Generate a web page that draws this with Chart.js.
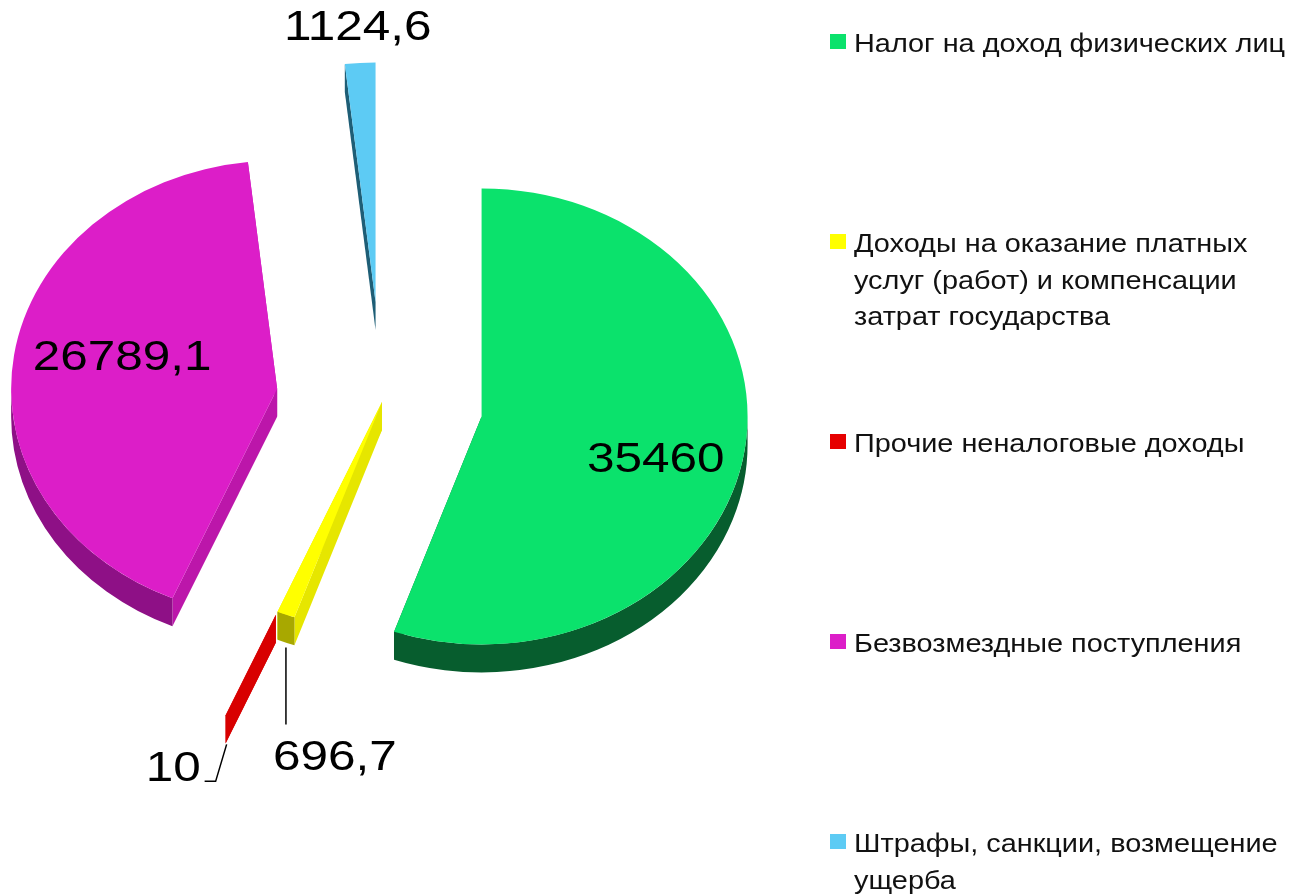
<!DOCTYPE html>
<html>
<head>
<meta charset="utf-8">
<script src="https://cdn.jsdelivr.net/npm/chart.js@4.4.1/dist/chart.umd.min.js"></script>
<style>
  html, body { margin: 0; padding: 0; background: #ffffff; overflow: hidden; }
  #wrap { position: relative; width: 1299px; height: 896px; }
  canvas { display: block; }
</style>
</head>
<body>
<div id="wrap"><canvas id="chart" width="1299" height="896"></canvas></div>
<script>
// ---------- data ----------
const legendLines = [
  ['Налог на доход физических лиц'],
  ['Доходы на оказание платных', 'услуг (работ) и компенсации', 'затрат государства'],
  ['Прочие неналоговые доходы'],
  ['Безвозмездные поступления'],
  ['Штрафы, санкции, возмещение', 'ущерба']
];
const categories = legendLines.map(l => l.join(' '));
const values = [35460, 696.7, 10, 26789.1, 1124.6];

// ---------- styles ----------
const faceColors = ['#0BE26C', '#FFFF00', '#E60000', '#DC1EC8', '#5DCBF4'];
const sideColors = ['#0A6E35', '#E6E600', '#D80000', '#BC16AA', '#1E5E76'];
const wallColors = ['#075D2E', '#A8A800', '#C00000', '#8E1086', '#1E5E76'];
const explode     = [101, 0, 270, 106, 117];   // explosion distance per slice (px, unsquashed)
const radiusScale = [1, 1, 0.48, 1, 1.05];
const labelMode   = ['in', 'down', 'left', 'in', 'out'];
const labelFactor = [0.68, 0, 0, 0.6, 1.21];
const labelShift  = [6, 0, 0, 5.2, 0];        // degrees

const CX = 382, CY = 402, R = 266, K = 0.857, DEPTH = 28;
const VALUE_SX = 1.15, LEGEND_SX = 1.11;
const VALUE_FONT = '43px "Liberation Sans", Arial, sans-serif';
const LEGEND_FONT = '26px "Liberation Sans", Arial, sans-serif';

const fmt = v => String(v).replace('.', ',');
const toScreen = (x, y) => [x, CY + (y - CY) * K];

function drawText(ctx, text, x, y, align, baseline, font, sx, color) {
  ctx.save();
  ctx.translate(x, y);
  ctx.scale(sx, 1);
  ctx.font = font;
  ctx.fillStyle = color || '#000';
  ctx.textAlign = align;
  ctx.textBaseline = baseline;
  ctx.fillText(text, 0, 0);
  ctx.restore();
}

const pie3d = {
  id: 'pie3d',
  afterDatasetsUpdate(chart) {
    const meta = chart.getDatasetMeta(0);
    meta.data.forEach((arc, i) => {
      const mid = (arc.startAngle + arc.endAngle) / 2;
      arc.x += Math.cos(mid) * explode[i];
      arc.y += Math.sin(mid) * explode[i];
      arc.outerRadius *= radiusScale[i];
    });
  },
  beforeDatasetsDraw(chart) {
    const ctx = chart.ctx;
    const meta = chart.getDatasetMeta(0);
    ctx.save();
    ctx.translate(0, CY);
    ctx.scale(1, K);
    ctx.translate(0, -CY);
    const D = DEPTH / K;
    // radial side walls
    meta.data.forEach((arc, i) => {
      const { x, y, startAngle, endAngle, outerRadius: r } = arc;
      [startAngle, endAngle].forEach(a => {
        const ex = x + r * Math.cos(a), ey = y + r * Math.sin(a);
        ctx.beginPath();
        ctx.moveTo(x, y);
        ctx.lineTo(ex, ey);
        ctx.lineTo(ex, ey + D);
        ctx.lineTo(x, y + D);
        ctx.closePath();
        ctx.fillStyle = sideColors[i];
        ctx.fill();
      });
    });
    // outer curved walls (front half only)
    meta.data.forEach((arc, i) => {
      const { x, y, startAngle, endAngle, outerRadius: r } = arc;
      const s = Math.max(startAngle, 0), e = Math.min(endAngle, Math.PI);
      if (e > s) {
        ctx.beginPath();
        ctx.arc(x, y, r, s, e);
        ctx.arc(x, y + D, r, e, s, true);
        ctx.closePath();
        ctx.fillStyle = wallColors[i];
        ctx.fill();
      }
    });
  },
  afterDatasetsDraw(chart) {
    const ctx = chart.ctx;
    ctx.restore();
    const meta = chart.getDatasetMeta(0);
    meta.data.forEach((arc, i) => {
      const { x, y, startAngle, endAngle, outerRadius: r } = arc;
      const mid = (startAngle + endAngle) / 2;
      const text = fmt(values[i]);
      ctx.strokeStyle = '#000';
      ctx.lineWidth = 1.5;
      if (labelMode[i] === 'in' || labelMode[i] === 'out') {
        const a = mid + labelShift[i] * Math.PI / 180;
        const [lx, ly] = toScreen(x + Math.cos(a) * R * labelFactor[i], y + Math.sin(a) * R * labelFactor[i]);
        drawText(ctx, text, lx, ly + 2, 'center', 'middle', VALUE_FONT, VALUE_SX);
      } else {
        const [tx, ty] = toScreen(x + Math.cos(mid) * r, y + Math.sin(mid) * r);
        const bottom = ty + DEPTH;
        if (labelMode[i] === 'down') {
          ctx.beginPath();
          ctx.moveTo(tx, bottom + 5);
          ctx.lineTo(tx, bottom + 82);
          ctx.stroke();
          drawText(ctx, text, tx - 13, bottom + 127, 'left', 'alphabetic', VALUE_FONT, VALUE_SX);
        } else {
          ctx.beginPath();
          ctx.moveTo(tx + 1, bottom + 1);
          ctx.lineTo(tx - 10, bottom + 38);
          ctx.lineTo(tx - 21, bottom + 38);
          ctx.stroke();
          drawText(ctx, text, tx - 25, bottom + 38, 'right', 'alphabetic', VALUE_FONT, VALUE_SX);
        }
      }
    });
  },
  afterDraw(chart) {
    const ctx = chart.ctx;
    legendLines.forEach((lines, i) => {
      const base = 52 + i * 200;
      ctx.fillStyle = faceColors[i];
      ctx.fillRect(830, base - 18, 16, 15);
      lines.forEach((t, j) => drawText(ctx, t, 854, base + j * 36.5, 'left', 'alphabetic', LEGEND_FONT, LEGEND_SX, '#111'));
    });
  }
};

new Chart(document.getElementById('chart').getContext('2d'), {
  type: 'pie',
  data: {
    labels: categories,
    datasets: [{
      data: values,
      backgroundColor: faceColors,
      borderWidth: 0,
      radius: R,
      clip: false
    }]
  },
  options: {
    responsive: false,
    animation: false,
    events: [],
    radius: R,
    rotation: 0,
    layout: { padding: { left: 0, top: 0, right: 1299 - 2 * CX, bottom: 896 - 2 * CY } },
    plugins: {
      legend: { display: false },
      tooltip: { enabled: false }
    }
  },
  plugins: [pie3d]
});
</script>
</body>
</html>
